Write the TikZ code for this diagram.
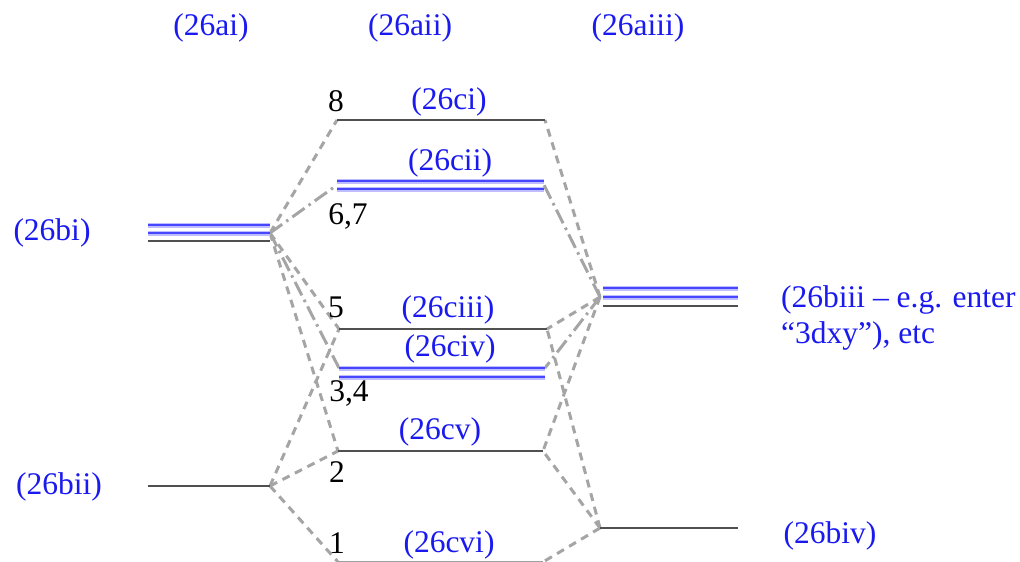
\documentclass[tikz,border=0pt]{standalone}
\usepackage{fontspec}
\setmainfont{Liberation Serif}
\definecolor{lblue}{RGB}{25,25,240}
\definecolor{lineblue}{RGB}{70,70,255}
\definecolor{glow}{RGB}{190,190,255}
\definecolor{lvl}{RGB}{80,80,80}
\definecolor{conn}{RGB}{165,165,165}
\begin{document}
\begin{tikzpicture}[x=1pt,y=-1pt,
  lbl/.style={inner sep=0pt, font=\fontsize{31.5}{36}\selectfont},
  bl/.style={lbl, text=lblue},
  lvlblk/.style={draw=lvl, line width=2.6pt},
  lvlblue/.style={draw=lineblue, line width=2.4pt, preaction={draw=glow, line width=5pt}},
  sig/.style={draw=conn, line width=3pt, dash pattern=on 8pt off 6pt},
  piconn/.style={draw=conn, line width=3pt, dash pattern=on 15pt off 5pt on 2.5pt off 5pt}]
\useasboundingbox (0,0) rectangle (1020,562);

% atomic levels
\coordinate (biL) at (148,233); \coordinate (bi) at (270,233);
\coordinate (biiL) at (148,486); \coordinate (bii) at (270,486);
\coordinate (biii) at (600,297); \coordinate (biiiR) at (738,297);
\coordinate (biv) at (600,528); \coordinate (bivR) at (738,528);

% molecular levels
\coordinate (L8) at (337,120); \coordinate (R8) at (545,120);
\coordinate (L67) at (337,185); \coordinate (R67) at (544,185);
\coordinate (L5) at (339,329); \coordinate (R5) at (547,329);
\coordinate (L34) at (339,368); \coordinate (R34) at (545,368);
\coordinate (L2) at (338,451); \coordinate (R2) at (543,451);
\coordinate (L1) at (338,562); \coordinate (R1) at (543,562);

% connectors
\foreach \a/\b in {bi/L8, bi/L5, bi/L2, bii/L5, bii/L2, bii/L1,
                   biii/R8, biii/R5, biii/R2, biv/R5, biv/R2, biv/R1}
  \draw[sig] (\a) -- (\b);
\foreach \a/\b in {bi/L67, bi/L34, biii/R67, biii/R34}
  \draw[piconn] (\a) -- (\b);

% left triple
\draw[lvlblue] ([yshift=8pt]biL) -- ([yshift=8pt]bi);
\draw[lvlblue] (biL) -- (bi);
\draw[lvlblk] ([yshift=-8pt]biL) -- ([yshift=-8pt]bi);
\draw[lvlblk] (biiL) -- (bii);
% right triple
\draw[lvlblue] ([shift={(3pt,9pt)}]biii) -- ([yshift=9pt]biiiR);
\draw[lvlblue] ([xshift=3pt]biii) -- (biiiR);
\draw[lvlblk] ([shift={(3pt,-9pt)}]biii) -- ([yshift=-9pt]biiiR);
\draw[lvlblk] (biv) -- (bivR);

% MO levels
\draw[lvlblk] (L8) -- (R8);
\draw[lvlblue] ([yshift=4pt]L67) -- ([yshift=4pt]R67);
\draw[lvlblue] ([yshift=-4pt]L67) -- ([yshift=-4pt]R67);
\draw[lvlblk] (L5) -- (R5);
\draw[lvlblue] (L34) -- (R34);
\draw[lvlblue] ([yshift=-9pt]L34) -- ([yshift=-9pt]R34);
\draw[lvlblk] (L2) -- (R2);
\draw[draw=lvl!55, line width=2pt] (L1) -- (R1);

% labels
\node[bl] (tai) at (211,28) {(26ai)};
\node[bl] (taii) at (410,28) {(26aii)};
\node[bl] (taiii) at (638,28) {(26aiii)};
\node[bl] (tbi) at (52,233) {(26bi)};
\node[bl] (tbii) at (59,487) {(26bii)};
\node[bl, anchor=west] (tbiii) at (781,300) {(26biii – e.g. enter};
\node[bl, anchor=west] (tbiiib) at (781,336) {“3dxy”), etc};
\node[bl] (tbiv) at (830,536) {(26biv)};
\node[lbl] (n8) at (336,101) {8};
\node[bl] (tci) at (449,102) {(26ci)};
\node[bl] (tcii) at (450,163) {(26cii)};
\node[lbl] (n67) at (348,216) {6,7};
\node[lbl] (n5) at (336,307) {5};
\node[bl] (tciii) at (448,310) {(26ciii)};
\node[bl] (tciv) at (450,349) {(26civ)};
\node[lbl] (n34) at (349,393) {3,4};
\node[bl] (tcv) at (440,432) {(26cv)};
\node[lbl] (n2) at (337,472) {2};
\node[lbl] (n1) at (337,543) {1};
\node[bl] (tcvi) at (449,545) {(26cvi)};
\end{tikzpicture}
\end{document}
